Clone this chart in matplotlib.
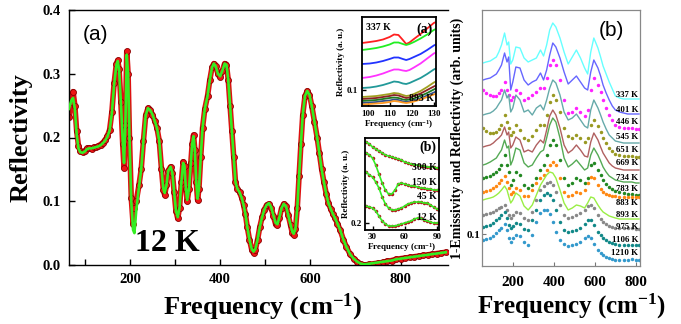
import matplotlib
matplotlib.use('Agg')
import matplotlib.pyplot as plt

plt.rcParams['font.family'] = ['Liberation Serif', 'DejaVu Serif']
plt.rcParams['mathtext.fontset'] = 'custom'
plt.rcParams['mathtext.rm'] = 'Liberation Serif:bold'
plt.rcParams['mathtext.it'] = 'Liberation Serif:bold'
plt.rcParams['mathtext.bf'] = 'Liberation Serif:bold'

# ---------------- main panel (a): 12 K reflectivity ----------------
freq_12K = [65, 70, 74, 78, 82, 86, 90, 95, 100, 105,
            110, 115, 120, 125, 130, 135, 140, 145, 150, 155,
            160, 165, 170, 173, 176, 180, 184, 187, 190, 193,
            196, 199, 203, 207, 210, 214, 220, 225, 230, 235,
            240, 245, 250, 255, 260, 265, 270, 274, 277, 281,
            285, 290, 294, 298, 302, 306, 310, 314, 318, 321,
            324, 327, 331, 335, 338, 341, 344, 347, 350, 353,
            357, 361, 366, 372, 377, 382, 386, 390, 395, 400,
            405, 410, 414, 418, 422, 426, 430, 434, 438, 443,
            448, 452, 456, 460, 465, 470, 474, 478, 483, 488,
            493, 498, 503, 508, 513, 518, 523, 527, 531, 536,
            541, 546, 551, 556, 560, 563, 567, 571, 575, 579,
            583, 588, 593, 598, 603, 609, 615, 620, 625, 630,
            635, 640, 645, 650, 655, 660, 666, 673, 680, 688,
            696, 704, 712, 720, 730, 740, 750, 760, 770, 780,
            790, 800, 810, 820, 830, 840, 850, 860, 870, 880,
            890, 900]
refl_12K_data = [0.232, 0.255, 0.272, 0.250, 0.210, 0.187, 0.179, 0.177, 0.179, 0.183,
                 0.184, 0.182, 0.185, 0.185, 0.187, 0.189, 0.192, 0.196, 0.202, 0.212,
                 0.240, 0.285, 0.316, 0.321, 0.308, 0.255, 0.190, 0.152, 0.220, 0.335,
                 0.300, 0.200, 0.105, 0.065, 0.090, 0.100, 0.125, 0.150, 0.195, 0.235,
                 0.246, 0.243, 0.236, 0.226, 0.215, 0.195, 0.150, 0.118, 0.110, 0.125,
                 0.148, 0.154, 0.145, 0.115, 0.085, 0.073, 0.090, 0.130, 0.162, 0.155,
                 0.120, 0.100, 0.120, 0.160, 0.190, 0.204, 0.180, 0.130, 0.102, 0.120,
                 0.170, 0.215, 0.245, 0.265, 0.290, 0.310, 0.316, 0.312, 0.300, 0.295,
                 0.305, 0.316, 0.314, 0.290, 0.250, 0.210, 0.170, 0.130, 0.120, 0.114,
                 0.105, 0.094, 0.080, 0.060, 0.040, 0.024, 0.019, 0.024, 0.040, 0.060,
                 0.075, 0.087, 0.094, 0.096, 0.090, 0.077, 0.064, 0.062, 0.073, 0.089,
                 0.096, 0.092, 0.078, 0.062, 0.050, 0.047, 0.056, 0.090, 0.140, 0.190,
                 0.235, 0.265, 0.273, 0.267, 0.250, 0.225, 0.200, 0.175, 0.150, 0.130,
                 0.112, 0.097, 0.088, 0.080, 0.073, 0.065, 0.055, 0.040, 0.028, 0.017,
                 0.010, 0.005, 0.001, 0.000, 0.001, 0.002, 0.003, 0.004, 0.006, 0.007,
                 0.009, 0.010, 0.011, 0.012, 0.013, 0.014, 0.015, 0.016, 0.017, 0.018,
                 0.019, 0.020]
refl_12K_fit = [0.245, 0.258, 0.262, 0.245, 0.205, 0.183, 0.177, 0.176, 0.178, 0.182,
                0.183, 0.183, 0.184, 0.185, 0.186, 0.188, 0.191, 0.195, 0.201, 0.211,
                0.238, 0.283, 0.314, 0.320, 0.306, 0.255, 0.195, 0.160, 0.220, 0.330,
                0.300, 0.200, 0.100, 0.055, 0.050, 0.085, 0.122, 0.150, 0.195, 0.235,
                0.246, 0.243, 0.236, 0.226, 0.215, 0.195, 0.150, 0.120, 0.113, 0.125,
                0.148, 0.154, 0.145, 0.115, 0.085, 0.075, 0.090, 0.130, 0.160, 0.155,
                0.120, 0.102, 0.120, 0.160, 0.190, 0.202, 0.180, 0.130, 0.104, 0.120,
                0.170, 0.215, 0.245, 0.265, 0.290, 0.310, 0.316, 0.312, 0.300, 0.296,
                0.305, 0.316, 0.314, 0.290, 0.250, 0.210, 0.170, 0.130, 0.120, 0.114,
                0.105, 0.094, 0.080, 0.060, 0.040, 0.025, 0.021, 0.025, 0.040, 0.060,
                0.075, 0.087, 0.094, 0.097, 0.091, 0.078, 0.066, 0.064, 0.074, 0.089,
                0.096, 0.092, 0.078, 0.063, 0.052, 0.049, 0.057, 0.090, 0.140, 0.190,
                0.235, 0.265, 0.273, 0.267, 0.250, 0.225, 0.200, 0.175, 0.150, 0.130,
                0.112, 0.097, 0.088, 0.080, 0.073, 0.065, 0.055, 0.040, 0.028, 0.017,
                0.010, 0.005, 0.002, 0.001, 0.002, 0.003, 0.004, 0.005, 0.006, 0.007,
                0.009, 0.010, 0.011, 0.012, 0.013, 0.014, 0.015, 0.016, 0.017, 0.018,
                0.019, 0.020]

# ---------------- inset (a): 100-130 cm-1, temperatures ----------------
freq_ins_a = [97.5, 101, 104, 107, 110, 112, 114, 116, 117.5, 119, 121, 124, 127, 130, 131]
ins_a_colors = ['#ff2020', '#22ee22', '#2233ff', '#ff33ff', '#229999',
                '#a0a020', '#8b2222', '#207a20', '#33508a', '#ff9922']
ins_a_curves = [
    [63, 64, 65, 66.5, 69, 71.5, 71, 66, 62, 63.5, 67, 72, 77.5, 83, 84],
    [56, 57, 58, 59.5, 61.5, 63.5, 63.5, 62, 61, 62, 64, 67.5, 71.5, 76, 77],
    [42, 42.5, 43.5, 45, 47, 48.5, 48.5, 47, 46, 47, 49, 52, 56, 60.5, 61.5],
    [28, 29, 30.5, 32.5, 35, 36.5, 36.5, 35.5, 35, 36, 38.5, 42.5, 47.5, 52.5, 53.5],
    [18, 18.5, 19.5, 21, 23, 24.5, 24, 22.5, 22, 23, 25, 28, 32, 36.5, 37.5],
    [9, 9.5, 10, 11, 12, 13, 12.5, 11, 10, 10.5, 12, 15, 19, 23.5, 24.5],
    [7, 7.5, 8, 9, 10, 11, 10.5, 9, 8, 8.5, 10, 12.5, 16, 19.5, 20.5],
    [5, 5.5, 6, 7, 8, 8.5, 8, 6.5, 6, 6.5, 7.5, 10, 13, 16.5, 17.5],
    [3, 3.5, 4, 5, 5.5, 6.5, 6, 4.5, 4, 4.5, 5.5, 7.5, 10.5, 13.5, 14.5],
    [1.5, 2, 2.5, 3, 4, 5, 4.5, 3.5, 3, 3.5, 4.5, 6.5, 9, 11.5, 12.5],
]

# ---------------- inset (b): 23-92 cm-1, low temperatures ----------------
freq_ins_b = [24, 27, 30, 33, 36, 39, 42, 45, 48, 51, 54, 57, 60, 63, 66, 69,
              72, 75, 78, 81, 84, 87, 90, 92]
ins_b_labels = ['300 K', '150 K', '45 K', '12 K']
ins_b_label_pos = [63, 48, 34, 13]
ins_b_curves = [
    [88, 86, 83, 81, 79, 77, 75, 74, 73, 72, 71, 70, 68, 67, 66, 65, 65, 64, 64, 63, 63, 63, 62, 62],
    [77, 75, 72, 65, 56, 47, 40, 36, 36, 40, 46, 47, 46, 45, 44, 44, 43, 42, 42, 41, 41, 40, 40, 40],
    [58, 55, 53, 48, 42, 33, 26, 22, 20, 20, 21, 22, 24, 26, 27, 28, 28, 28, 27, 27, 25, 23, 21, 20],
    [24, 23, 22, 19, 14, 9, 6, 4, 4, 4, 5, 6, 7, 8, 9, 11, 12, 12, 10, 9, 8, 7, 7, 7],
]

# ---------------- panel (b): 1-emissivity spectra ----------------
freq_b = [55, 70, 90, 105, 120, 132, 145,
          160, 172, 180, 190, 200,
          215, 235, 255, 275, 295,
          315, 335, 350, 365, 380,
          395, 410, 430, 450, 470,
          490, 510, 530, 550, 565,
          580, 595, 615, 628, 640,
          655, 670, 685, 700, 720,
          740, 760, 780, 800, 815]
temps_b = ['337 K', '401 K', '446 K', '545 K', '651 K', '669 K', '734 K',
           '783 K', '883 K', '893 K', '975 K', '1106 K', '1210 K']
colors_b = ['#66ffff', '#6666ff', '#ff22ff', '#66aaaa', '#999922', '#b06060', '#55aa55',
            '#228822', '#ff8811', '#99ee44', '#888888', '#118888', '#3399cc']
dotted_b = [False, False, True, False, True, False, False,
            True, True, False, True, True, True]
curves_b = [
    [203, 204, 205, 207, 209, 214, 221, 233, 221, 224, 202, 206, 219, 218, 208, 204, 206,
     208, 216, 210, 221, 236, 243, 239, 228, 214, 202, 209, 216, 208, 198, 192,
     214, 228, 218, 209, 200, 192, 184, 177, 170, 168, 167, 167, 167, 167, 167],
    [186, 187, 188, 190, 192, 196, 201, 213, 204, 209, 176, 184, 199, 198, 186, 181, 184,
     186, 193, 186, 196, 211, 223, 219, 208, 194, 182, 186, 190, 184, 178, 176,
     194, 206, 198, 190, 181, 173, 166, 160, 156, 154, 153, 152, 152, 152, 152],
    [176, 173, 171, 170, 170, 173, 176, 184, 176, 171, 166, 169, 176, 173, 166, 168, 171,
     174, 178, 178, 188, 201, 206, 201, 186, 166, 153, 154, 158, 154, 150, 156,
     176, 188, 181, 174, 166, 158, 151, 146, 141, 139, 138, 138, 138, 137, 137],
    [151, 152, 153, 155, 158, 162, 166, 176, 168, 171, 154, 158, 171, 166, 154, 156, 151,
     158, 161, 156, 166, 178, 186, 183, 171, 154, 146, 148, 152, 146, 140, 138,
     156, 166, 158, 151, 144, 137, 131, 128, 125, 124, 123, 123, 123, 123, 123],
    [138, 135, 133, 133, 134, 137, 141, 151, 144, 138, 131, 134, 141, 136, 128, 126, 130,
     136, 141, 141, 151, 164, 171, 166, 154, 138, 130, 128, 131, 128, 124, 128,
     141, 146, 140, 134, 128, 123, 118, 115, 112, 111, 110, 110, 110, 109, 109],
    [119, 120, 121, 123, 126, 128, 131, 139, 131, 134, 118, 121, 129, 126, 114, 116, 114,
     121, 126, 123, 136, 150, 156, 151, 138, 121, 113, 116, 121, 116, 110, 109,
     124, 133, 126, 119, 113, 108, 103, 100, 98, 97, 96, 96, 96, 96, 96],
    [101, 102, 104, 106, 108, 112, 116, 126, 118, 120, 101, 106, 118, 116, 103, 99, 101,
     108, 114, 116, 128, 141, 148, 144, 128, 108, 99, 102, 106, 101, 96, 98,
     111, 118, 111, 105, 99, 94, 90, 88, 86, 85, 84, 84, 84, 83, 83],
    [88, 89, 90, 92, 94, 97, 101, 111, 101, 94, 81, 86, 94, 91, 81, 78, 81,
     88, 96, 101, 111, 121, 126, 121, 106, 88, 81, 83, 88, 86, 83, 88,
     101, 103, 96, 91, 86, 82, 79, 77, 75, 74, 73, 72, 72, 71, 71],
    [74, 75, 76, 78, 80, 83, 86, 90, 84, 78, 72, 74, 78, 76, 70, 70, 76,
     83, 88, 91, 96, 101, 104, 101, 88, 74, 70, 71, 74, 73, 76, 83,
     89, 88, 81, 77, 74, 72, 71, 70, 70, 69, 69, 69, 69, 69, 69],
    [66, 67, 68, 69, 71, 73, 76, 80, 76, 70, 63, 66, 73, 70, 60, 56, 61,
     71, 81, 86, 91, 94, 93, 88, 76, 63, 56, 58, 61, 60, 58, 63,
     69, 68, 61, 57, 54, 52, 50, 49, 48, 47, 47, 47, 47, 47, 47],
    [51, 52, 53, 54, 56, 58, 59, 61, 56, 51, 48, 51, 54, 53, 48, 46, 54,
     66, 76, 80, 83, 84, 81, 74, 61, 51, 48, 49, 51, 53, 56, 60,
     61, 58, 51, 47, 44, 42, 40, 39, 38, 38, 38, 38, 38, 37, 37],
    [39, 40, 41, 43, 46, 48, 51, 54, 48, 41, 38, 40, 43, 42, 37, 36, 46,
     56, 66, 71, 73, 71, 66, 56, 44, 36, 34, 35, 36, 38, 42, 46,
     46, 41, 34, 31, 28, 26, 24, 23, 22, 21, 21, 21, 21, 21, 21],
    [26, 27, 28, 30, 33, 36, 38, 42, 36, 28, 24, 28, 31, 30, 24, 21, 31,
     44, 53, 56, 56, 52, 44, 34, 26, 22, 20, 21, 22, 24, 28, 30,
     28, 22, 16, 13, 11, 9, 8, 7, 6, 6, 6, 6, 7, 6, 6],
]
label_pos_b = [167, 152, 140, 125, 112, 99, 84, 73, 59, 47, 35, 22, 9]

# ======================================================================
W, H = 681.0, 324.0
fig = plt.figure(figsize=(6.81, 3.24), dpi=100)


def rect(l, t, r, b):
    return [l / W, 1 - b / H, (r - l) / W, (b - t) / H]


# ---- main panel ----
ax = fig.add_axes(rect(69, 10, 448, 265))
ax.plot(freq_12K, refl_12K_data, color='#dd1111', lw=4.0, zorder=1, solid_capstyle='round')
ax.plot(freq_12K, refl_12K_data, 'o', ms=4.3, mfc='#ee1515', mec='#8a0000', mew=0.6, zorder=2)
ax.plot(freq_12K, refl_12K_fit, color='#33ee22', lw=1.9, zorder=3)
ax.set_xlim(65, 905)
ax.set_ylim(0, 0.4)
ax.set_xticks([200, 400, 600, 800])
ax.set_xticks([100, 300, 500, 700], minor=True)
ax.set_yticks([0.0, 0.1, 0.2, 0.3, 0.4])
ax.set_yticklabels(['0.0', '0.1', '0.2', '0.3', '0.4'])
ax.tick_params(axis='both', which='both', direction='in', length=4, width=1,
               top=False, right=False, labelsize=10.5, pad=6)
for t in ax.get_xticklabels() + ax.get_yticklabels():
    t.set_fontweight('bold')
for s in ax.spines.values():
    s.set_linewidth(1.0)
ax.spines['right'].set_visible(False)
ax.set_ylabel('Reflectivity', fontsize=19, fontweight='bold')
ax.yaxis.set_label_coords(-0.095, 0.5)
ax.set_xlabel(r'Frequency (cm$^{-1}$)', fontsize=19, fontweight='bold')
ax.xaxis.set_label_coords(0.51, -0.105)
ax.text(96, 0.361, '(a)', fontsize=15, family=['Liberation Sans', 'DejaVu Sans'],
        va='center', ha='left')
ax.text(282, 0.033, '12 K', fontsize=23, fontweight='bold', ha='center', va='center')

# ---- inset (a) ----
axa = fig.add_axes(rect(362, 17, 436, 106))
for c, ys in zip(ins_a_colors, ins_a_curves):
    axa.plot(freq_ins_a, ys, color=c, lw=1.3)
axa.set_xlim(97.5, 131)
axa.set_ylim(0, 89)
axa.set_xticks([100, 110, 120, 130])
axa.set_xticklabels(['100', '110', '120', '130'])
axa.set_yticks([16])
axa.set_yticklabels(['0.1'])
axa.tick_params(direction='in', length=3, width=1, labelsize=6.5, pad=3)
for t in axa.get_xticklabels() + axa.get_yticklabels():
    t.set_fontweight('bold')
for s in axa.spines.values():
    s.set_linewidth(1.3)
axa.set_xlabel(r'Frequency (cm$^{-1}$)', fontsize=6.5, fontweight='bold', labelpad=0)
axa.set_ylabel('Reflectivity (a. u.)', fontsize=6.5, fontweight='bold', labelpad=1)
axa.text(0.05, 0.88, '337 K', transform=axa.transAxes, fontsize=7, fontweight='bold', va='center')
axa.text(0.96, 0.86, '(a)', transform=axa.transAxes, fontsize=10, fontweight='bold',
         va='center', ha='right')
axa.text(0.97, 0.035, '893 K', transform=axa.transAxes, fontsize=7, fontweight='bold',
         va='bottom', ha='right')

# ---- inset (b) ----
axb = fig.add_axes(rect(365, 138, 439, 230))
for ys in ins_b_curves:
    axb.plot(freq_ins_b, ys, 'o', ms=2.2, mfc='#cc1111', mec='#881111', mew=0.3)
    axb.plot(freq_ins_b, ys, color='#33ee22', lw=1.2)
for lab, yp in zip(ins_b_labels, ins_b_label_pos):
    axb.text(90, yp, lab, fontsize=7, fontweight='bold', ha='right', va='center')
axb.set_xlim(23, 92)
axb.set_ylim(0, 92)
axb.set_xticks([30, 60, 90])
axb.set_xticklabels(['30', '60', '90'])
axb.set_yticks([7])
axb.set_yticklabels(['0.2'])
axb.tick_params(direction='in', length=3, width=1, labelsize=6.5, pad=2)
for t in axb.get_xticklabels() + axb.get_yticklabels():
    t.set_fontweight('bold')
for s in axb.spines.values():
    s.set_linewidth(1.3)
axb.set_xlabel(r'Frequency (cm$^{-1}$)', fontsize=6.5, fontweight='bold', labelpad=0)
axb.set_ylabel('Reflectivity (a. u.)', fontsize=6.5, fontweight='bold', labelpad=1)
axb.text(0.96, 0.9, '(b)', transform=axb.transAxes, fontsize=10, fontweight='bold',
         va='center', ha='right')

# ---- panel (b) ----
bx = fig.add_axes(rect(482, 10, 640, 266))
for ys, c, dot in zip(curves_b, colors_b, dotted_b):
    if dot:
        bx.plot(freq_b, ys, 'o', ms=2.5, color=c, mew=0)
    else:
        bx.plot(freq_b, ys, color=c, lw=1.0)
for lab, yp in zip(temps_b, label_pos_b):
    bx.text(812, yp, lab, fontsize=6.3, fontweight='bold', ha='right', va='bottom')
bx.set_xlim(50, 820)
bx.set_ylim(0, 256)
bx.set_xticks([200, 400, 600, 800])
bx.set_xticklabels(['200', '400', '600', '800'])
bx.set_yticks([32])
bx.set_yticklabels(['0.1'])
bx.tick_params(direction='in', length=3, width=0.8, color='#777777', labelsize=11, pad=7)
for t in bx.get_xticklabels() + bx.get_yticklabels():
    t.set_fontweight('bold')
bx.tick_params(axis='y', labelsize=8, pad=1.5)
for s in bx.spines.values():
    s.set_color('#888888')
    s.set_linewidth(0.9)
bx.set_ylabel('1-Emissivity and Reflectivity (arb. units)', fontsize=10, fontweight='bold')
bx.yaxis.set_label_coords(-0.112, 0.5)
bx.set_xlabel(r'Frequency (cm$^{-1}$)', fontsize=18, fontweight='bold')
bx.xaxis.set_label_coords(0.57, -0.102)
bx.text(0.82, 0.92, '(b)', transform=bx.transAxes, fontsize=15,
        family=['Liberation Sans', 'DejaVu Sans'], ha='center', va='center')

fig.savefig('out.png', dpi=100)
